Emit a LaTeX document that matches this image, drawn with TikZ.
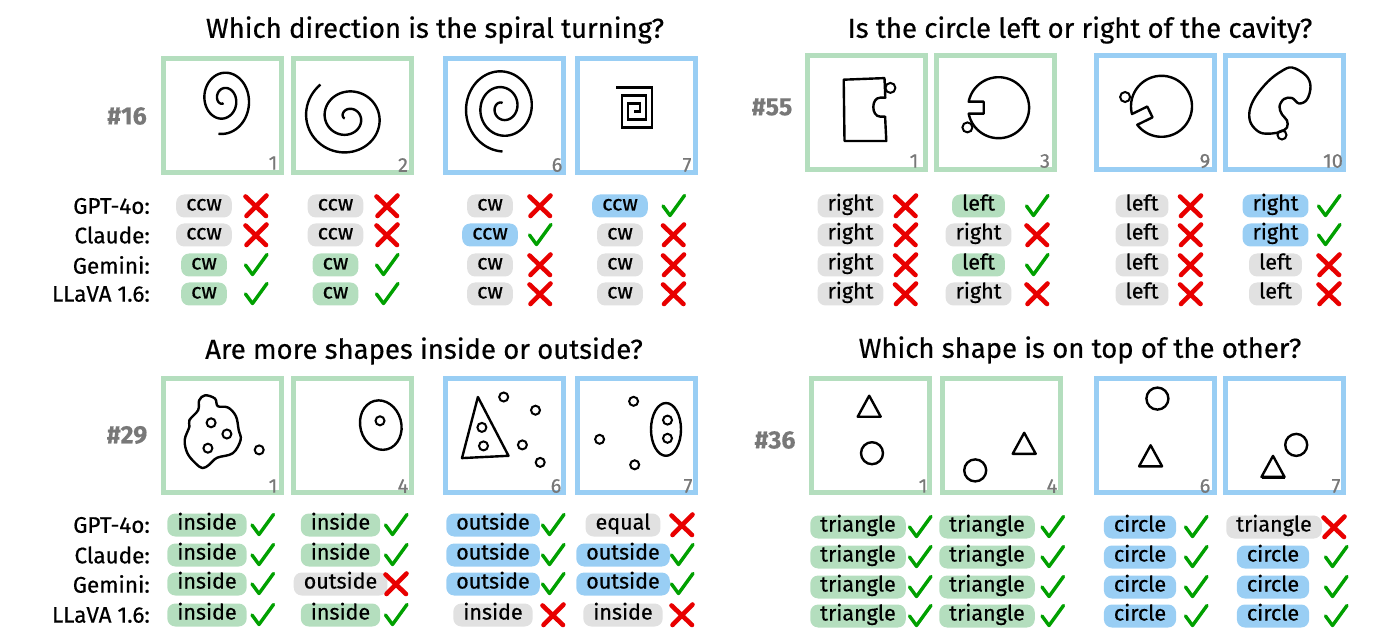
\documentclass[tikz,border=0pt]{standalone}
\usepackage{fontspec}
\setmainfont{Fira Sans}[FakeBold=0.4]
\newfontfamily\medfont{Fira Sans}[FakeBold=0.5]
\definecolor{boxgreen}{RGB}{180,222,190}
\definecolor{boxblue}{RGB}{153,206,244}
\definecolor{pillgray}{RGB}{225,225,225}
\definecolor{okgreen}{RGB}{0,160,0}
\definecolor{nored}{RGB}{232,0,0}
\definecolor{idgray}{RGB}{120,120,120}
\begin{document}
\begin{tikzpicture}[x=1pt, y=-1pt,
    title/.style={font=\medfont\fontsize{27.5}{27.5}\selectfont},
    qid/.style={text=idgray, font=\fontsize{25}{25}\selectfont\bfseries},
    model/.style={anchor=east, inner sep=0pt, font=\medfont\fontsize{22.5}{22.5}\selectfont},
    gbox/.style={draw=boxgreen, line width=5pt, minimum width=118pt, minimum height=114pt, inner sep=0pt},
    bbox/.style={gbox, draw=boxblue},
    num/.style={text=idgray, font=\medfont\fontsize{20}{20}\selectfont},
    shp/.style={line width=2.4pt, line join=round},
    dot/.style={line width=2pt},
    pill/.style={rounded corners=8pt, inner xsep=10pt, inner ysep=2pt, minimum height=22pt, text height=14pt, text depth=5pt, font=\medfont\fontsize{21.5}{21.5}\selectfont},
    gp/.style={pill, fill=pillgray},
    grp/.style={pill, fill=boxgreen},
    blp/.style={pill, fill=boxblue},
    okmark/.pic={\draw[okgreen, line width=3.4pt, line cap=round, line join=round] (-10.5,0)--(-3.5,9.5)--(11,-10.5);},
    nomark/.pic={\draw[nored, line width=4.6pt, line cap=round] (-10.5,-9.5)--(10,10) (10.5,-10.5)--(-9.5,10);}]
\useasboundingbox (0,0) rectangle (1390,644);

% ---------- #16 spiral ----------
\node[title] (t16) at (435,30) {Which direction is the spiral turning?};
\node[qid] (q16) at (127,116) {\#16};
\node[gbox] (b16a) at (222.5,115.5) {}; \node[gbox] (b16b) at (352.5,115.5) {};
\node[bbox] (b16c) at (504.5,115.5) {}; \node[bbox] (b16d) at (636.5,115.5) {};
\node[num] (n16a) at (273,163) {1}; \node[num] (n16b) at (403,165) {2};
\node[num] (n16c) at (557,165) {6}; \node[num] (n16d) at (687,165) {7};
\begin{scope}[shift={(b16a.center)}]
\draw[shp] plot[domain=90:820, samples=160, smooth] ({1+(3+(\x-90)/730*26)*cos(\x)}, {-16+1.2*(3+(\x-90)/730*26)*sin(\x)});
\end{scope}
\begin{scope}[shift={(b16b.center)}]
\draw[shp] plot[domain=160:952, samples=160, smooth] ({-5+(3+(\x-160)/792*41)*cos(\x)}, {2+0.95*(3+(\x-160)/792*41)*sin(\x)});
\end{scope}
\begin{scope}[shift={(b16c.center)}]
\draw[shp] plot[domain=90:990, samples=180, smooth] ({-2+(4+(990-\x)/900*36)*cos(\x)}, {-8+1.1*(4+(990-\x)/900*36)*sin(\x)});
\end{scope}
\begin{scope}[shift={(b16d.center)}, shift={(-2.5,-4)}]
\draw[shp, line join=miter] (0,0)--(6,0)--(6,-8)--(-6,-8)--(-6,8)--(12,8)--(12,-16)--(-12,-16)--(-12,16)--(18,16)--(18,-24)--(-18,-24);
\end{scope}

% answers
\node[model] (l16a) at (150,206) {GPT-4o:}; \node[model] (l16b) at (150,235) {Claude:};
\node[model] (l16c) at (150,265) {Gemini:}; \node[model] (l16d) at (150,294) {LLaVA 1.6:};
\node[gp] (p16a1) at (204,206) {ccw}; \pic (m16a1) at (256,206) {nomark};
\node[gp] (p16a2) at (204,235) {ccw}; \pic (m16a2) at (256,235) {nomark};
\node[grp] (p16a3) at (204,265) {cw}; \pic (m16a3) at (256,265) {okmark};
\node[grp] (p16a4) at (204,294) {cw}; \pic (m16a4) at (256,294) {okmark};
\node[gp] (p16b1) at (335.5,206) {ccw}; \pic (m16b1) at (387,206) {nomark};
\node[gp] (p16b2) at (335.5,235) {ccw}; \pic (m16b2) at (387,235) {nomark};
\node[grp] (p16b3) at (335.5,265) {cw}; \pic (m16b3) at (387,265) {okmark};
\node[grp] (p16b4) at (335.5,294) {cw}; \pic (m16b4) at (387,294) {okmark};
\node[gp] (p16c1) at (490,206) {cw}; \pic (m16c1) at (540,206) {nomark};
\node[blp] (p16c2) at (490,235) {ccw}; \pic (m16c2) at (540,235) {okmark};
\node[gp] (p16c3) at (490,265) {cw}; \pic (m16c3) at (540,265) {nomark};
\node[gp] (p16c4) at (490,294) {cw}; \pic (m16c4) at (540,294) {nomark};
\node[blp] (p16d1) at (620,206) {ccw}; \pic (m16d1) at (673.5,206) {okmark};
\node[gp] (p16d2) at (620,235) {cw}; \pic (m16d2) at (673.5,235) {nomark};
\node[gp] (p16d3) at (620,265) {cw}; \pic (m16d3) at (673.5,265) {nomark};
\node[gp] (p16d4) at (620,294) {cw}; \pic (m16d4) at (673.5,294) {nomark};

% ---------- #55 cavity ----------
\node[title] (t55) at (1080,30) {Is the circle left or right of the cavity?};
\node[qid] (q55) at (772,107) {\#55};
\node[gbox] (b55a) at (866,112.5) {}; \node[gbox] (b55b) at (995,112.5) {};
\node[bbox] (b55c) at (1155,112.5) {}; \node[bbox] (b55d) at (1284,112.5) {};
\node[num] (n55a) at (914,161) {1}; \node[num] (n55b) at (1045,161) {3};
\node[num] (n55c) at (1205,161) {9}; \node[num] (n55d) at (1333,161) {10};
\begin{scope}[shift={(b55a.center)}]
\draw[shp] (-22.3,-32.8)--(18.5,-34.4)--(19.3,-14.8)--(14.2,-14.8) .. controls (5,-15) and (5,4) .. (14.2,4.1)--(19.1,4.1)--(20.3,28.5)--(-21.5,28.5)--cycle;
\draw[dot] (24.4,-24.6) circle (5);
\end{scope}
\begin{scope}[shift={(b55b.center)}, shift={(3.6,-4.8)}]
\draw[shp] plot[domain=191.35:528.65, samples=90] ({30.5*cos(\x)},{30.5*sin(\x)}) -- (-14.9,6) -- (-14.9,-6) -- cycle;
\draw[dot] (-31.2,19.7) circle (5);
\end{scope}
\begin{scope}[shift={(b55c.center)}, shift={(6.5,-6.2)}]
\draw[shp] plot[domain=165.35:502.65, samples=90] ({30.5*cos(\x)},{30.5*sin(\x)})
  -- ({12.9*cos(154)+6*sin(154)},{12.9*sin(154)-6*cos(154)})
  -- ({12.9*cos(154)-6*sin(154)},{12.9*sin(154)+6*cos(154)}) -- cycle;
\draw[dot] (-36.4,-9.3) circle (5);
\end{scope}
\begin{scope}[shift={(b55d.center)}]
\draw[shp] plot[smooth cycle, tension=0.6] coordinates {(8,-45) (22,-37) (26.5,-26) (23,-13) (15,-9) (8,-14.5) (0,-13.5) (-4.5,-6) (-2,2) (3,8) (3,15) (-3,19) (-12,21) (-24,20) (-33,11) (-34.5,-1) (-29,-15) (-16,-31) (-3,-41)};
\draw[dot] (-2,22.5) circle (4.5);
\end{scope}

% answers
\node[gp] (p55a1) at (850.5,206) {right}; \pic (m55a1) at (905.5,206) {nomark};
\node[gp] (p55a2) at (850.5,235) {right}; \pic (m55a2) at (905.5,235) {nomark};
\node[gp] (p55a3) at (850.5,265) {right}; \pic (m55a3) at (905.5,265) {nomark};
\node[gp] (p55a4) at (850.5,294) {right}; \pic (m55a4) at (905.5,294) {nomark};
\node[grp] (p55b1) at (978.5,206) {left}; \pic (m55b1) at (1037,206) {okmark};
\node[gp] (p55b2) at (978.5,235) {right}; \pic (m55b2) at (1037,235) {nomark};
\node[grp] (p55b3) at (978.5,265) {left}; \pic (m55b3) at (1037,265) {okmark};
\node[gp] (p55b4) at (978.5,294) {right}; \pic (m55b4) at (1037,294) {nomark};
\node[gp] (p55c1) at (1142,206) {left}; \pic (m55c1) at (1190.5,206) {nomark};
\node[gp] (p55c2) at (1142,235) {left}; \pic (m55c2) at (1190.5,235) {nomark};
\node[gp] (p55c3) at (1142,265) {left}; \pic (m55c3) at (1190.5,265) {nomark};
\node[gp] (p55c4) at (1142,294) {left}; \pic (m55c4) at (1190.5,294) {nomark};
\node[blp] (p55d1) at (1275.5,206) {right}; \pic (m55d1) at (1329,206) {okmark};
\node[blp] (p55d2) at (1275.5,235) {right}; \pic (m55d2) at (1329,235) {okmark};
\node[gp] (p55d3) at (1275.5,265) {left}; \pic (m55d3) at (1329,265) {nomark};
\node[gp] (p55d4) at (1275.5,294) {left}; \pic (m55d4) at (1329,294) {nomark};

% ---------- #29 inside / outside ----------
\node[title] (t29) at (424,351) {Are more shapes inside or outside?};
\node[qid] (q29) at (127,435) {\#29};
\node[gbox] (b29a) at (222.5,435) {}; \node[gbox] (b29b) at (352.5,435) {};
\node[bbox] (b29c) at (504.5,435) {}; \node[bbox] (b29d) at (636.5,435) {};
\node[num] (n29a) at (273,486) {1}; \node[num] (n29b) at (403,486) {4};
\node[num] (n29c) at (556,486) {6}; \node[num] (n29d) at (688,486) {7};
\begin{scope}[shift={(b29a.center)}]
\draw[shp] plot[smooth cycle, tension=0.6] coordinates {(-17.4,-39.7) (-7.5,-36.4) (-4.7,-28.8) (5.5,-27.5) (13.4,-18.8) (16.2,-5) (18.1,5) (10.3,18.2) (-5.5,22.8) (-13.4,29.8) (-20.1,33.1) (-27.2,28.1) (-35.1,18.2) (-37.8,5) (-33.1,-8.3) (-33.1,-14.9) (-24.4,-24.8) (-23.3,-34.7)};
\draw[dot] (-11.4,-12.2) circle (4.5); \draw[dot] (4.4,-1) circle (4.5);
\draw[dot] (-14.6,13.2) circle (4.5); \draw[dot] (36.7,14.9) circle (4.5);
\end{scope}
\begin{scope}[shift={(b29b.center)}]
\draw[shp, rotate around={15:(28.3,-9.9)}] (28.3,-9.9) ellipse [x radius=20.5, y radius=25];
\draw[dot] (27.5,-14.2) circle (4.5);
\end{scope}
\begin{scope}[shift={(b29c.center)}]
\draw[shp] (-26.6,-38)--(-42.5,23.1)--(4,20.8)--cycle;
\draw[dot] (-22.6,-7.6) circle (4.5); \draw[dot] (-21,10.9) circle (4.5);
\draw[dot] (-0.8,-38) circle (4.5); \draw[dot] (31,-24.8) circle (4.5);
\draw[dot] (17.9,9.9) circle (4.5); \draw[dot] (35.7,27.4) circle (4.5);
\end{scope}
\begin{scope}[shift={(b29d.center)}]
\draw[shp] (29.5,-5.6) ellipse [x radius=15, y radius=26.4];
\draw[dot] (31,-14.9) circle (4.5); \draw[dot] (31,3.3) circle (4.5);
\draw[dot] (-2.9,-33.7) circle (4.5); \draw[dot] (-36.9,4.3) circle (4.5);
\draw[dot] (-1.8,29.8) circle (4.5);
\end{scope}

% answers
\node[model] (l29a) at (150,525) {GPT-4o:}; \node[model] (l29b) at (150,555) {Claude:};
\node[model] (l29c) at (150,584) {Gemini:}; \node[model] (l29d) at (150,615) {LLaVA 1.6:};
\node[grp] (p29a1) at (207,525) {inside}; \pic (m29a1) at (262.5,525) {okmark};
\node[grp] (p29a2) at (207,555) {inside}; \pic (m29a2) at (262.5,555) {okmark};
\node[grp] (p29a3) at (207,584) {inside}; \pic (m29a3) at (262.5,584) {okmark};
\node[grp] (p29a4) at (207,615) {inside}; \pic (m29a4) at (262.5,615) {okmark};
\node[grp] (p29b1) at (340.5,525) {inside}; \pic (m29b1) at (396,525) {okmark};
\node[grp] (p29b2) at (340.5,555) {inside}; \pic (m29b2) at (396,555) {okmark};
\node[gp] (p29b3) at (340.5,584) {outside}; \pic (m29b3) at (396,584) {nomark};
\node[grp] (p29b4) at (340.5,615) {inside}; \pic (m29b4) at (396,615) {okmark};
\node[blp] (p29c1) at (493,525) {outside}; \pic (m29c1) at (553,525) {okmark};
\node[blp] (p29c2) at (493,555) {outside}; \pic (m29c2) at (553,555) {okmark};
\node[blp] (p29c3) at (493,584) {outside}; \pic (m29c3) at (553,584) {okmark};
\node[gp] (p29c4) at (493,615) {inside}; \pic (m29c4) at (553,615) {nomark};
\node[gp] (p29d1) at (623,525) {equal}; \pic (m29d1) at (682,525) {nomark};
\node[blp] (p29d2) at (623,555) {outside}; \pic (m29d2) at (682,555) {okmark};
\node[blp] (p29d3) at (623,584) {outside}; \pic (m29d3) at (682,584) {okmark};
\node[gp] (p29d4) at (623,615) {inside}; \pic (m29d4) at (682,615) {nomark};

% ---------- #36 on top ----------
\node[title] (t36) at (1080,350) {Which shape is on top of the other?};
\node[qid] (q36) at (775,440) {\#36};
\node[gbox] (b36a) at (870,435) {}; \node[gbox] (b36b) at (1001,435) {};
\node[bbox] (b36c) at (1155,435) {}; \node[bbox] (b36d) at (1284,435) {};
\node[num] (n36a) at (923,486) {1}; \node[num] (n36b) at (1052,486) {4};
\node[num] (n36c) at (1205,486) {6}; \node[num] (n36d) at (1336,486) {7};
\begin{scope}[shift={(b36a.center)}]
\draw[shp] (-0.8,-39.3)--(-12.3,-18.3)--(10.7,-18.3)--cycle;
\draw[shp] (2,18.2) circle (11);
\end{scope}
\begin{scope}[shift={(b36b.center)}]
\draw[shp] (23.2,-2.2)--(11.7,18.8)--(34.7,18.8)--cycle;
\draw[shp] (-25.8,35.4) circle (11);
\end{scope}
\begin{scope}[shift={(b36c.center)}]
\draw[shp] (2.4,-36.4) circle (11);
\draw[shp] (-4.4,10.3)--(-15.9,31.3)--(7.1,31.3)--cycle;
\end{scope}
\begin{scope}[shift={(b36d.center)}]
\draw[shp] (12.2,9.9) circle (11);
\draw[shp] (-11,20.9)--(-22.5,41.9)--(0.5,41.9)--cycle;
\draw[line width=2.4pt] (-22.5,43)--(0.5,43);
\end{scope}

% answers
\node[grp] (p36a1) at (858,527) {triangle}; \pic (m36a1) at (920,527) {okmark};
\node[grp] (p36a2) at (858,557) {triangle}; \pic (m36a2) at (920,557) {okmark};
\node[grp] (p36a3) at (858,587) {triangle}; \pic (m36a3) at (920,587) {okmark};
\node[grp] (p36a4) at (858,616) {triangle}; \pic (m36a4) at (920,616) {okmark};
\node[grp] (p36b1) at (987,527) {triangle}; \pic (m36b1) at (1052.5,527) {okmark};
\node[grp] (p36b2) at (987,557) {triangle}; \pic (m36b2) at (1052.5,557) {okmark};
\node[grp] (p36b3) at (987,587) {triangle}; \pic (m36b3) at (1052.5,587) {okmark};
\node[grp] (p36b4) at (987,616) {triangle}; \pic (m36b4) at (1052.5,616) {okmark};
\node[blp] (p36c1) at (1140,527) {circle}; \pic (m36c1) at (1196,527) {okmark};
\node[blp] (p36c2) at (1140,557) {circle}; \pic (m36c2) at (1196,557) {okmark};
\node[blp] (p36c3) at (1140,587) {circle}; \pic (m36c3) at (1196,587) {okmark};
\node[blp] (p36c4) at (1140,616) {circle}; \pic (m36c4) at (1196,616) {okmark};
\node[gp] (p36d1) at (1274,527) {triangle}; \pic (m36d1) at (1334,527) {nomark};
\node[blp] (p36d2) at (1273,557) {circle}; \pic (m36d2) at (1336,557) {okmark};
\node[blp] (p36d3) at (1273,587) {circle}; \pic (m36d3) at (1336,587) {okmark};
\node[blp] (p36d4) at (1273,616) {circle}; \pic (m36d4) at (1336,616) {okmark};
\end{tikzpicture}
\end{document}
